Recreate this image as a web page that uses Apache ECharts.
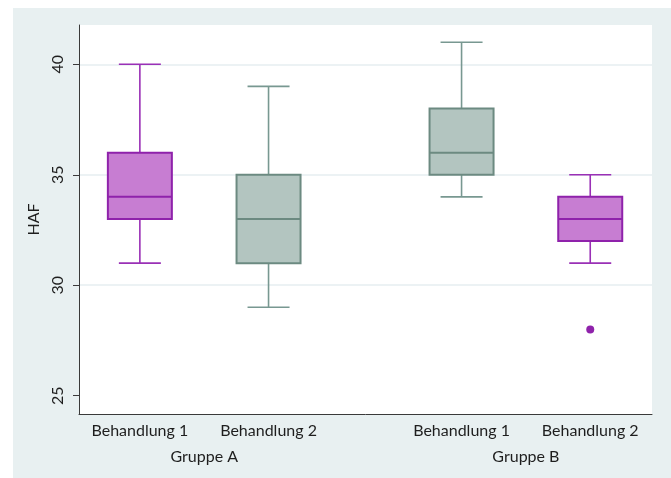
<!DOCTYPE html>
<html>
<head>
<meta charset="utf-8">
<script src="https://cdn.jsdelivr.net/npm/echarts@6/dist/echarts.min.js"></script>
<style>
  html, body { margin: 0; padding: 0; background: #fff; }
  #chart { width: 671px; height: 478px; }
</style>
</head>
<body>
<div id="chart"></div>
<script>
// Box positions on the x scale (groups separated by a wider gap)
const positions = [1, 2, 3.5, 4.5];
const treatments = ['Behandlung 1', 'Behandlung 2', 'Behandlung 1', 'Behandlung 2'];
const groupPositions = [1.5, 4];
const groups = ['Gruppe A', 'Gruppe B'];

// Five-number summaries of HAF per treatment
const lowerWhisker = [31, 29, 34, 31];
const q1 = [33, 31, 35, 32];
const median = [34, 33, 36, 33];
const q3 = [36, 35, 38, 34];
const upperWhisker = [40, 39, 41, 35];

// Points outside the whiskers: [position, value]
const outliers = [[4.5, 28]];

// Tick values of the HAF axis
const yTicks = [25, 30, 35, 40];

const palette = {
  purple: { fill: '#c77dd2', line: '#8f22ab', whisker: '#9a30b6' },
  gray:   { fill: '#b3c5c0', line: '#6c8a81', whisker: '#789891' }
};
const boxStyle = ['purple', 'gray', 'gray', 'purple'];

const BOX_W = 64;
const CAP_W = 42;

const boxData = positions.map((p, i) => [p, lowerWhisker[i], q1[i], median[i], q3[i], upperWhisker[i], i]);

function renderBox(params, api) {
  const x = api.value(0);
  const idx = api.value(6);
  const c = palette[boxStyle[idx]];
  const pLow = api.coord([x, api.value(1)]);
  const pQ1 = api.coord([x, api.value(2)]);
  const pMed = api.coord([x, api.value(3)]);
  const pQ3 = api.coord([x, api.value(4)]);
  const pHigh = api.coord([x, api.value(5)]);
  const cx = pMed[0];
  const wStyle = { stroke: c.whisker, lineWidth: 1.6 };
  return {
    type: 'group',
    children: [
      { type: 'line', shape: { x1: cx, y1: pLow[1], x2: cx, y2: pQ1[1] }, style: wStyle },
      { type: 'line', shape: { x1: cx, y1: pQ3[1], x2: cx, y2: pHigh[1] }, style: wStyle },
      { type: 'line', shape: { x1: cx - CAP_W / 2, y1: pLow[1], x2: cx + CAP_W / 2, y2: pLow[1] }, style: wStyle },
      { type: 'line', shape: { x1: cx - CAP_W / 2, y1: pHigh[1], x2: cx + CAP_W / 2, y2: pHigh[1] }, style: wStyle },
      { type: 'rect', shape: { x: cx - BOX_W / 2, y: pQ3[1], width: BOX_W, height: pQ1[1] - pQ3[1] },
        style: { fill: c.fill, stroke: c.line, lineWidth: 2 } },
      { type: 'line', shape: { x1: cx - BOX_W / 2, y1: pMed[1], x2: cx + BOX_W / 2, y2: pMed[1] },
        style: { stroke: c.line, lineWidth: 2 } }
    ]
  };
}

const FONT = 'Lato';
const chart = echarts.init(document.getElementById('chart'), null, { renderer: 'canvas' });

chart.setOption({
  backgroundColor: '#ffffff',
  animation: false,
  graphic: [{
    type: 'rect', z: -10, silent: true,
    shape: { x: 13, y: 8, width: 658, height: 470 },
    style: { fill: '#e8f0f1' }
  }],
  grid: {
    left: 79, right: 19, top: 25, bottom: 64,
    show: true, backgroundColor: '#ffffff', borderWidth: 0
  },
  xAxis: [{
    type: 'value', min: 0.527, max: 4.98,
    axisLine: { show: true, onZero: false, lineStyle: { color: '#3a3a3a', width: 1 } },
    axisTick: { show: false },
    splitLine: { show: false },
    axisLabel: {
      customValues: positions,
      formatter: v => treatments[positions.indexOf(v)] || '',
      color: '#1e1e1e', fontFamily: FONT, fontSize: 16, margin: 9
    }
  }, {
    type: 'value', min: 0.527, max: 4.98, position: 'bottom',
    axisLine: { show: false }, axisTick: { show: false }, splitLine: { show: false },
    axisLabel: {
      customValues: groupPositions,
      formatter: v => groups[groupPositions.indexOf(v)] || '',
      color: '#1e1e1e', fontFamily: FONT, fontSize: 16, margin: 35
    }
  }],
  yAxis: {
    type: 'value', min: 24.17, max: 41.78,
    name: 'HAF', nameLocation: 'middle', nameRotate: 90, nameGap: 33,
    nameTextStyle: { color: '#1e1e1e', fontFamily: FONT, fontSize: 16 },
    axisLine: { show: true, onZero: false, lineStyle: { color: '#3a3a3a', width: 1 } },
    axisTick: { show: true, customValues: yTicks, length: 6, lineStyle: { color: '#3a3a3a' } },
    axisLabel: {
      customValues: yTicks, rotate: 90, margin: 13,
      color: '#1e1e1e', fontFamily: FONT, fontSize: 16
    },
    splitLine: {
      show: true,
      lineStyle: { color: ['rgba(0,0,0,0)', '#e6eef0', '#e6eef0', '#e6eef0'], width: 1.5 }
    }
  },
  series: [{
    type: 'custom',
    renderItem: renderBox,
    encode: { x: 0, y: [1, 2, 3, 4, 5] },
    data: boxData,
    z: 3
  }, {
    type: 'scatter',
    data: outliers,
    symbol: 'circle', symbolSize: 8,
    itemStyle: { color: '#8f22ab', opacity: 1 },
    z: 4
  }]
});
</script>
</body>
</html>
